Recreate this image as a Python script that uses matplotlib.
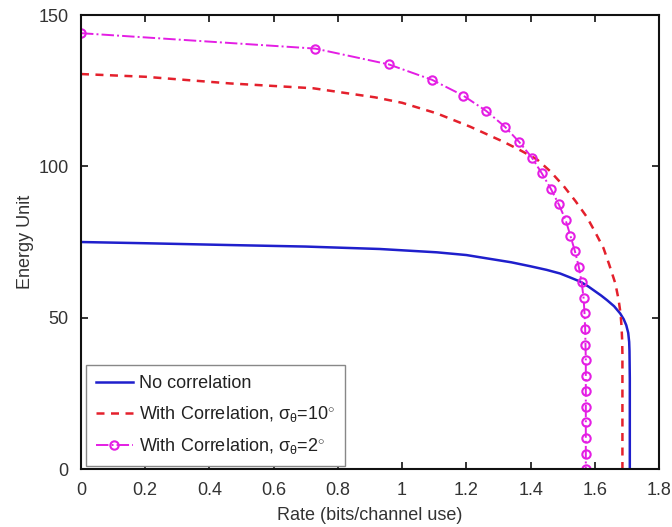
import matplotlib
matplotlib.use("Agg")
import matplotlib.pyplot as plt

# ---- data ----
rate_nocorr = [0.0, 0.2, 0.464, 0.7, 0.93, 1.108, 1.2, 1.264, 1.34, 1.399, 1.45, 1.492,
               1.523, 1.555, 1.58, 1.596, 1.62, 1.638, 1.66, 1.679, 1.69, 1.698, 1.704,
               1.707, 1.708, 1.709, 1.709]
energy_nocorr = [75.0, 74.6, 74.0, 73.5, 72.7, 71.6, 70.7, 69.6, 68.3, 67.0, 65.8, 64.6,
                 63.3, 61.9, 60.3, 59.1, 57.3, 55.8, 53.8, 51.4, 49.5, 47.5, 45.0,
                 42.0, 39.0, 30.0, 0.0]

rate_corr10 = [0.0, 0.2, 0.464, 0.723, 0.916, 1.0, 1.108, 1.212, 1.316, 1.37, 1.42, 1.46,
               1.503, 1.54, 1.575, 1.60, 1.627, 1.645, 1.664, 1.674, 1.680, 1.683, 1.685,
               1.686, 1.686]
energy_corr10 = [130.5, 129.6, 127.4, 125.8, 122.8, 121.0, 117.5, 113.1, 108.1, 105.2, 102.3, 98.5,
                 93.5, 88.5, 83.3, 78.5, 73.0, 67.5, 61.3, 56.0, 51.5, 47.5, 43.0,
                 38.0, 0.0]

rate_corr2 = [0.0, 0.73, 0.958, 1.093, 1.19, 1.262, 1.32, 1.365, 1.404, 1.435, 1.463,
              1.488, 1.509, 1.524, 1.538, 1.550, 1.559, 1.565, 1.568, 1.570, 1.571,
              1.572, 1.572, 1.572, 1.572, 1.572, 1.572, 1.572, 1.572]
energy_corr2 = [144.0, 138.9, 133.7, 128.6, 123.4, 118.3, 113.1, 108.0, 102.9, 97.7, 92.6,
                87.4, 82.3, 77.1, 72.0, 66.9, 61.7, 56.6, 51.4, 46.3, 41.1,
                36.0, 30.9, 25.7, 20.6, 15.4, 10.3, 5.1, 0.0]

xticks = [0, 0.2, 0.4, 0.6, 0.8, 1.0, 1.2, 1.4, 1.6, 1.8]
xticklabels = ['0', '0.2', '0.4', '0.6', '0.8', '1', '1.2', '1.4', '1.6', '1.8']
yticks = [0, 50, 100, 150]
yticklabels = ['0', '50', '100', '150']

labels = ['No correlation',
          r'With Correlation, $\sigma_\theta$=10$^{\circ}$',
          r'With Correlation, $\sigma_\theta$=2$^{\circ}$']

plt.rcParams['font.family'] = ['Liberation Sans', 'DejaVu Sans']
plt.rcParams['mathtext.fontset'] = 'custom'
plt.rcParams['mathtext.rm'] = 'Liberation Sans'
plt.rcParams['mathtext.it'] = 'Liberation Sans'

fig = plt.figure(figsize=(6.72, 5.27), dpi=100)
ax = fig.add_axes([0.1205, 0.110, 0.8602, 0.8615])

ax.plot(rate_nocorr, energy_nocorr, color='#1f1fcc', lw=1.8, label=labels[0])
ax.plot(rate_corr10, energy_corr10, color='#e4202c', lw=1.8, ls=(0, (3.2, 2.6)), label=labels[1])
ax.plot(rate_corr2, energy_corr2, color='#e41ee4', lw=1.4, ls='-.', marker='o',
        markersize=6, markerfacecolor='none', markeredgewidth=1.5, label=labels[2])

ax.set_xlim(0, 1.8)
ax.set_ylim(0, 150)
ax.set_xticks(xticks)
ax.set_xticklabels(xticklabels)
ax.set_yticks(yticks)
ax.set_yticklabels(yticklabels)
ax.tick_params(direction='in', top=True, right=True, length=5, width=1.2,
               labelsize=13, colors='#111111', labelcolor='#333333')
ax.tick_params(axis='x', pad=9)
ax.tick_params(axis='y', pad=9)
for s in ax.spines.values():
    s.set_linewidth(1.5)
    s.set_color('#111111')

ax.set_xlabel('Rate (bits/channel use)', fontsize=13, color='#333333', labelpad=6)
ax.set_ylabel('Energy Unit', fontsize=13, color='#333333', labelpad=3)

leg = ax.legend(loc='lower left', bbox_to_anchor=(0.008, 0.006), fontsize=13,
                fancybox=False, edgecolor='#888888', framealpha=1,
                handlelength=2.1, handletextpad=0.3, borderpad=0.55, labelspacing=0.68,
                borderaxespad=0)
leg.get_frame().set_linewidth(1.0)
for t in leg.get_texts():
    t.set_color('#222222')

fig.savefig('out.png', dpi=100)
